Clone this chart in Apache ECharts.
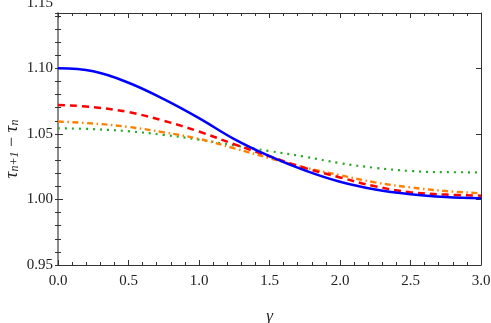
<!DOCTYPE html>
<html>
<head>
<meta charset="utf-8">
<script src="https://cdn.jsdelivr.net/npm/echarts@6/dist/echarts.min.js"></script>
<style>html,body{margin:0;padding:0;background:#fff;}#c{width:491px;height:323px;}</style>
</head>
<body>
<div id="c"></div>
<script>
const gammaValues = [0, 0.25, 0.5, 0.75, 1, 1.25, 1.5, 1.75, 2, 2.25, 2.5, 2.75, 3];
const blueSolid   = [1.1000, 1.0977, 1.0890, 1.0765, 1.0620, 1.0460, 1.0330, 1.0222, 1.0135, 1.0076, 1.0040, 1.0019, 1.0009];
const redDashed   = [1.0721, 1.0704, 1.0666, 1.0600, 1.0518, 1.0421, 1.0329, 1.0240, 1.0168, 1.0100, 1.0055, 1.0037, 1.0029];
const orangeDashDot = [1.0594, 1.0579, 1.0553, 1.0512, 1.0462, 1.0390, 1.0315, 1.0244, 1.0185, 1.0130, 1.0092, 1.0064, 1.0047];
const greenDotted = [1.0543, 1.0536, 1.0520, 1.0492, 1.0456, 1.0412, 1.0369, 1.0326, 1.0277, 1.0241, 1.0217, 1.0208, 1.0207];
const xTickLabels = ['0.0', '0.5', '1.0', '1.5', '2.0', '2.5', '3.0'];
const yTickLabels = ['0.95', '1.00', '1.05', '1.10', '1.15'];

const pairs = vals => gammaValues.map((g, i) => [g, vals[i]]);
const font = 'Liberation Serif';
const dark = '#333';

const chart = echarts.init(document.getElementById('c'), null, {renderer: 'canvas'});
const xBase = {
  type: 'value', min: 0, max: 3, interval: 0.5, gridIndex: 0,
  axisLine: {show: true, onZero: false, lineStyle: {color: dark, width: 1}},
  axisTick: {show: true, inside: true, length: 5, lineStyle: {color: dark}},
  minorTick: {show: true, splitNumber: 5, length: 3, lineStyle: {color: dark}},
  splitLine: {show: false}, minorSplitLine: {show: false}
};
const yMainMax = 1.1422;
const yBase = (pos, lineColor, lineWidth) => ({
  type: 'value', min: 0.95, max: yMainMax, interval: 0.05, gridIndex: 0, position: pos,
  axisLine: {show: true, onZero: false, lineStyle: {color: lineColor, width: lineWidth}},
  axisTick: {show: true, inside: true, length: 5, lineStyle: {color: dark}},
  axisLabel: {show: false}, splitLine: {show: false}
});
const yMinor = pos => ({
  type: 'value', min: 0.95, max: yMainMax, interval: 0.01, gridIndex: 0, position: pos,
  axisLine: {show: false},
  axisTick: {show: true, inside: true, length: 3, lineStyle: {color: dark}},
  axisLabel: {show: false}, splitLine: {show: false}
});

const yLeft = yBase('left', '#8a8a8a', 2);
Object.assign(yLeft, {
  name: '{t|τ}{s|n+1}{m| − }{t|τ}{s|n}', nameLocation: 'middle', nameGap: 37, nameRotate: 90,
  nameTextStyle: {
    color: '#222',
    padding: [0, 20, 0, 0],
    rich: {
      t: {fontFamily: font, fontStyle: 'italic', fontSize: 19, lineHeight: 19, verticalAlign: 'bottom'},
      s: {fontFamily: font, fontStyle: 'italic', fontSize: 12, lineHeight: 12, padding: [7, 0, 0, 0], verticalAlign: 'bottom'},
      m: {fontFamily: font, fontSize: 18, lineHeight: 19, verticalAlign: 'bottom'}
    }
  }
});

chart.setOption({
  animation: false,
  backgroundColor: '#fff',
  grid: [
    {left: 58, right: 10, top: 13, bottom: 58, outerBoundsMode: 'none', containLabel: false},
    {left: 58, right: 10, top: 3, bottom: 58, outerBoundsMode: 'none', containLabel: false}
  ],
  xAxis: [
    Object.assign({}, xBase, {
      position: 'bottom',
      name: 'γ', nameLocation: 'middle', nameGap: 43,
      nameTextStyle: {fontFamily: font, fontStyle: 'italic', fontSize: 17, color: '#222'},
      axisLabel: {show: true, margin: 9, fontFamily: font, fontSize: 15, color: '#222',
        formatter: (v) => xTickLabels[Math.round(v / 0.5)]}
    }),
    Object.assign({}, xBase, {position: 'top', axisLabel: {show: false}}),
    {type: 'value', gridIndex: 1, min: 0, max: 3, show: false}
  ],
  yAxis: [
    yLeft,
    yBase('right', dark, 1),
    yMinor('left'),
    yMinor('right'),
    {
      type: 'value', gridIndex: 1, min: 0.95, max: 1.15, interval: 0.05, position: 'left',
      axisLine: {show: false}, axisTick: {show: false}, splitLine: {show: false},
      axisLabel: {show: true, margin: 5, fontFamily: font, fontSize: 15, color: '#222',
        formatter: (v) => yTickLabels[Math.round((v - 0.95) / 0.05)]}
    }
  ],
  series: [
    {type: 'line', name: 'green', xAxisIndex: 0, yAxisIndex: 0, data: pairs(greenDotted), showSymbol: false, smooth: 0.4,
      lineStyle: {color: '#22a822', width: 2.2, type: [2, 5], cap: 'butt'}},
    {type: 'line', name: 'orange', xAxisIndex: 0, yAxisIndex: 0, data: pairs(orangeDashDot), showSymbol: false, smooth: 0.4,
      lineStyle: {color: '#ff8000', width: 2.4, type: [6, 3.5, 1.5, 3.5], cap: 'butt'}},
    {type: 'line', name: 'red', xAxisIndex: 0, yAxisIndex: 0, data: pairs(redDashed), showSymbol: false, smooth: 0.4,
      lineStyle: {color: '#ff0000', width: 2.5, type: [7, 5], cap: 'butt'}},
    {type: 'line', name: 'blue', xAxisIndex: 0, yAxisIndex: 0, data: pairs(blueSolid), showSymbol: false, smooth: 0.4,
      lineStyle: {color: '#0000ff', width: 2.5}}
  ]
});
</script>
</body>
</html>
